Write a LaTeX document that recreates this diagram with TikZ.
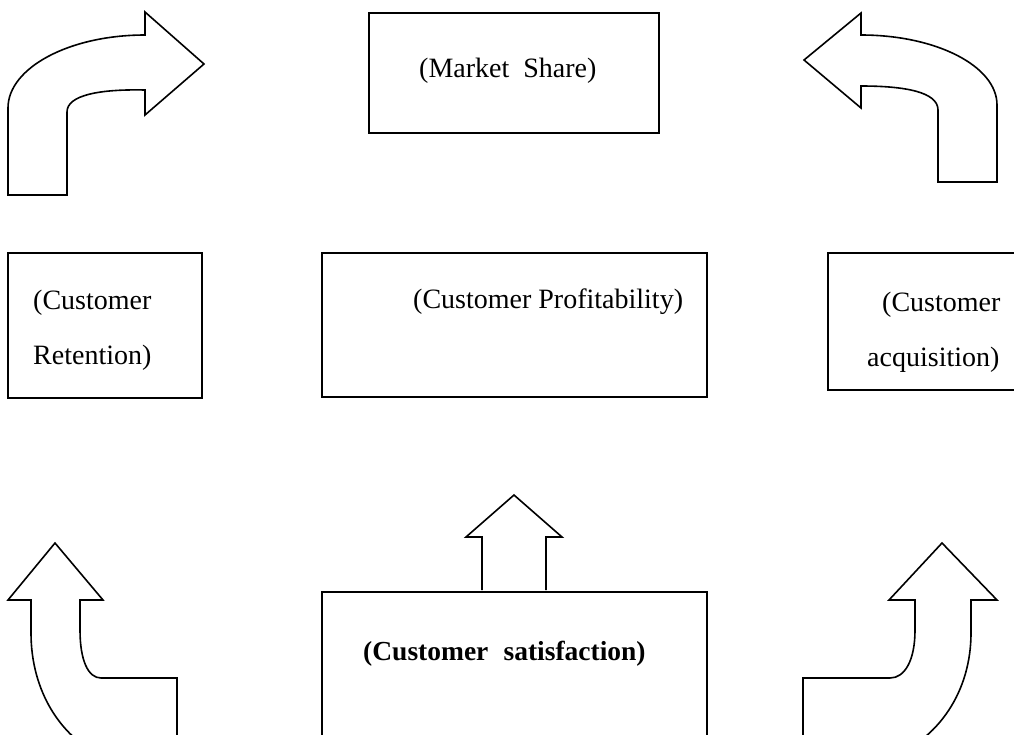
\documentclass[tikz,border=0pt]{standalone}
\usepackage{fontspec}
\setmainfont{Liberation Serif}
\begin{document}
\begin{tikzpicture}[x=1pt,y=-1pt,
  frame/.style={draw,line width=1.6pt,inner sep=0pt,outer sep=0pt,rectangle},
  label/.style={anchor=base west,inner sep=0pt,font=\fontsize{28}{34}\selectfont},
  blockarrow/.style={draw,line width=1.6pt,line join=miter,fill=white}]
\useasboundingbox (0,0) rectangle (1014,734);
\clip (0,0) rectangle (1014,734);

% boxes
\node[frame,minimum width=290pt,minimum height=120pt] (share) at (514,73) {};
\node[frame,minimum width=194pt,minimum height=145pt] (retention) at (105,325.5) {};
\node[frame,minimum width=385pt,minimum height=144pt] (profit) at (514.5,325) {};
\node[frame,minimum width=212pt,minimum height=137pt] (acquisition) at (934,321.5) {};
\node[frame,minimum width=385pt,minimum height=188pt] (satisfaction) at (514.5,686) {};

% labels
\node[label] (tshare) at (419,77) {(Market\hspace{0.5em}Share)};
\node[label] (tprofit) at (413,308) {(Customer Profitability)};
\node[label] (tret1) at (33,309) {(Customer};
\node[label] (tret2) at (33,364) {Retention)};
\node[label] (tacq1) at (882,311) {(Customer};
\node[label] (tacq2) at (867,366) {acquisition)};
\node[label,font=\fontsize{27.5}{33}\selectfont\bfseries] (tsat) at (363,660) {(Customer\hspace{0.55em}satisfaction)};

% top-left curved arrow
\draw[blockarrow] (8,195) -- (8,108) .. controls (8,68) and (69,35) .. (145,35)
  -- (145,12) -- (204,64) -- (145,115) -- (145,90)
  .. controls (100,89) and (67,95) .. (67,112) -- (67,195) -- cycle;

% top-right curved arrow
\draw[blockarrow] (997,182) -- (997,105) .. controls (997,66) and (936,35) .. (861,35)
  -- (861,13) -- (804,60) -- (861,108) -- (861,86)
  .. controls (905,86) and (938,92) .. (938,110) -- (938,182) -- cycle;

% bottom-left curved arrow
\draw[blockarrow] (31,600) -- (8,600) -- (55,543) -- (103,600) -- (80,600) -- (80,630)
  .. controls (80,660) and (88,678) .. (101,678) -- (177,678) -- (177,760) -- (110,760)
  .. controls (60,740) and (31,690) .. (31,633) -- cycle;

% bottom-right curved arrow
\draw[blockarrow] (971,600) -- (997,600) -- (942,543) -- (889,600) -- (915,600) -- (915,630)
  .. controls (915,660) and (905,678) .. (890,678) -- (803,678) -- (803,760) -- (885,760)
  .. controls (940,740) and (971,690) .. (971,633) -- cycle;

% straight arrow on top of the satisfaction box
\draw[line width=1.6pt,line join=miter] (482,590) -- (482,537) -- (466,537) -- (514,495)
  -- (562,537) -- (546,537) -- (546,590);
\end{tikzpicture}
\end{document}
